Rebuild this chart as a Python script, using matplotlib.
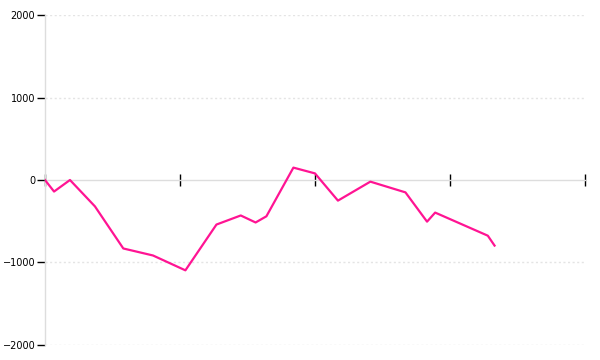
import matplotlib
matplotlib.use("Agg")
import matplotlib.pyplot as plt

x_vals = [0, 6.7, 18.5, 37, 58, 80, 104, 127, 145, 156, 164, 184, 200, 217, 241, 267, 283, 289, 328, 333]
y_vals = [0, -140, 0, -320, -830, -915, -1095, -540, -430, -515, -440, 150, 80, -250, -20, -150, -505, -395, -675, -795]
x_ticks = [0, 100, 200, 300, 400]
y_ticks = [-2000, -1000, 0, 1000, 2000]
y_labels = ["\u22122000", "\u22121000", "0", "1000", "2000"]

fig = plt.figure(figsize=(6, 3.6), dpi=100)
ax = fig.add_axes([0.075, 0.0417, 0.9, 0.9166])
ax.set_xlim(0, 400)
ax.set_ylim(-2000, 2000)

for yt in y_ticks:
    if yt != 0:
        ax.axhline(yt, color="#e4e4e4", linestyle=(0, (1.5, 1.8)), linewidth=1, zorder=0)

ax.plot(x_vals, y_vals, color="#ff1493", linewidth=1.6, zorder=3)

for s in ["top", "right"]:
    ax.spines[s].set_visible(False)
ax.spines["left"].set_color("#dddddd")
ax.spines["left"].set_linewidth(1)
ax.spines["bottom"].set_position(("data", 0))
ax.spines["bottom"].set_color("#dddddd")
ax.spines["bottom"].set_linewidth(1)

ax.set_xticks(x_ticks)
ax.set_xticklabels([])
ax.tick_params(axis="x", direction="inout", length=8, width=1, color="black")
ax.set_yticks(y_ticks)
ax.set_yticklabels(y_labels)
ax.tick_params(axis="y", direction="out", length=6, width=1, color="black", labelsize=7, pad=1)

fig.savefig("out.png", dpi=100)
